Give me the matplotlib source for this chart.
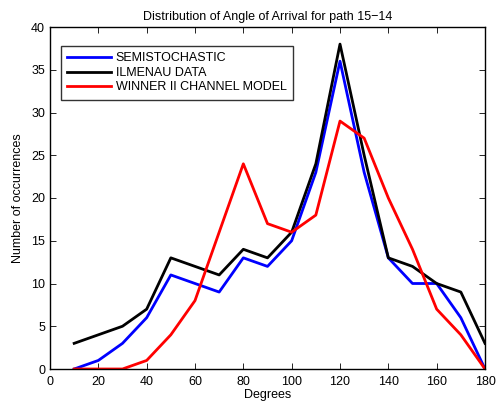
import numpy as np
import matplotlib
matplotlib.use("Agg")
import matplotlib.pyplot as plt

plt.rcParams['font.family'] = ['Liberation Sans', 'DejaVu Sans']

# angle bins (degrees)
degrees = [10, 20, 30, 40, 50, 60, 70, 80, 90, 100, 110, 120, 130, 140, 150, 160, 170, 180]
# occurrences per bin
semistochastic = [0, 1, 3, 6, 11, 10, 9, 13, 12, 15, 23, 36, 23, 13, 10, 10, 6, 0]
ilmenau = [3, 4, 5, 7, 13, 12, 11, 14, 13, 16, 24, 38, 25, 13, 12, 10, 9, 3]
winner2 = [0, 0, 0, 1, 4, 8, 16, 24, 17, 16, 18, 29, 27, 20, 14, 7, 4, 0]

fig = plt.figure(figsize=(5.01, 4.09), dpi=100)
ax = fig.add_axes([50/501, 1-369/409, 435/501, 342/409])

ax.plot(degrees, semistochastic, color='blue', lw=2, label='SEMISTOCHASTIC')
ax.plot(degrees, ilmenau, color='black', lw=2, label='ILMENAU DATA')
ax.plot(degrees, winner2, color='red', lw=2, label='WINNER II CHANNEL MODEL')

ax.set_xlim(0, 180)
ax.set_ylim(0, 40)
ax.set_xticks(np.arange(0, 181, 20))
ax.set_yticks(np.arange(0, 41, 5))
ax.tick_params(direction='in', top=True, right=True, labelsize=9, length=4, width=0.6)
ax.tick_params(axis='x', pad=5)
for s in ax.spines.values():
    s.set_linewidth(1.0)

ax.set_title('Distribution of Angle of Arrival for path 15\u221214', fontsize=9, pad=5)
ax.set_xlabel('Degrees', fontsize=9, labelpad=1)
ax.set_ylabel('Number of occurrences', fontsize=9, labelpad=5)

leg = ax.legend(loc='upper left', bbox_to_anchor=(0.025, 0.944), fontsize=9,
                frameon=True, fancybox=False, edgecolor='black', handlelength=3.5,
                borderpad=0.5, labelspacing=0.2, handletextpad=0.4, borderaxespad=0)
leg.get_frame().set_linewidth(1.0)

fig.savefig("out.png", dpi=100)
